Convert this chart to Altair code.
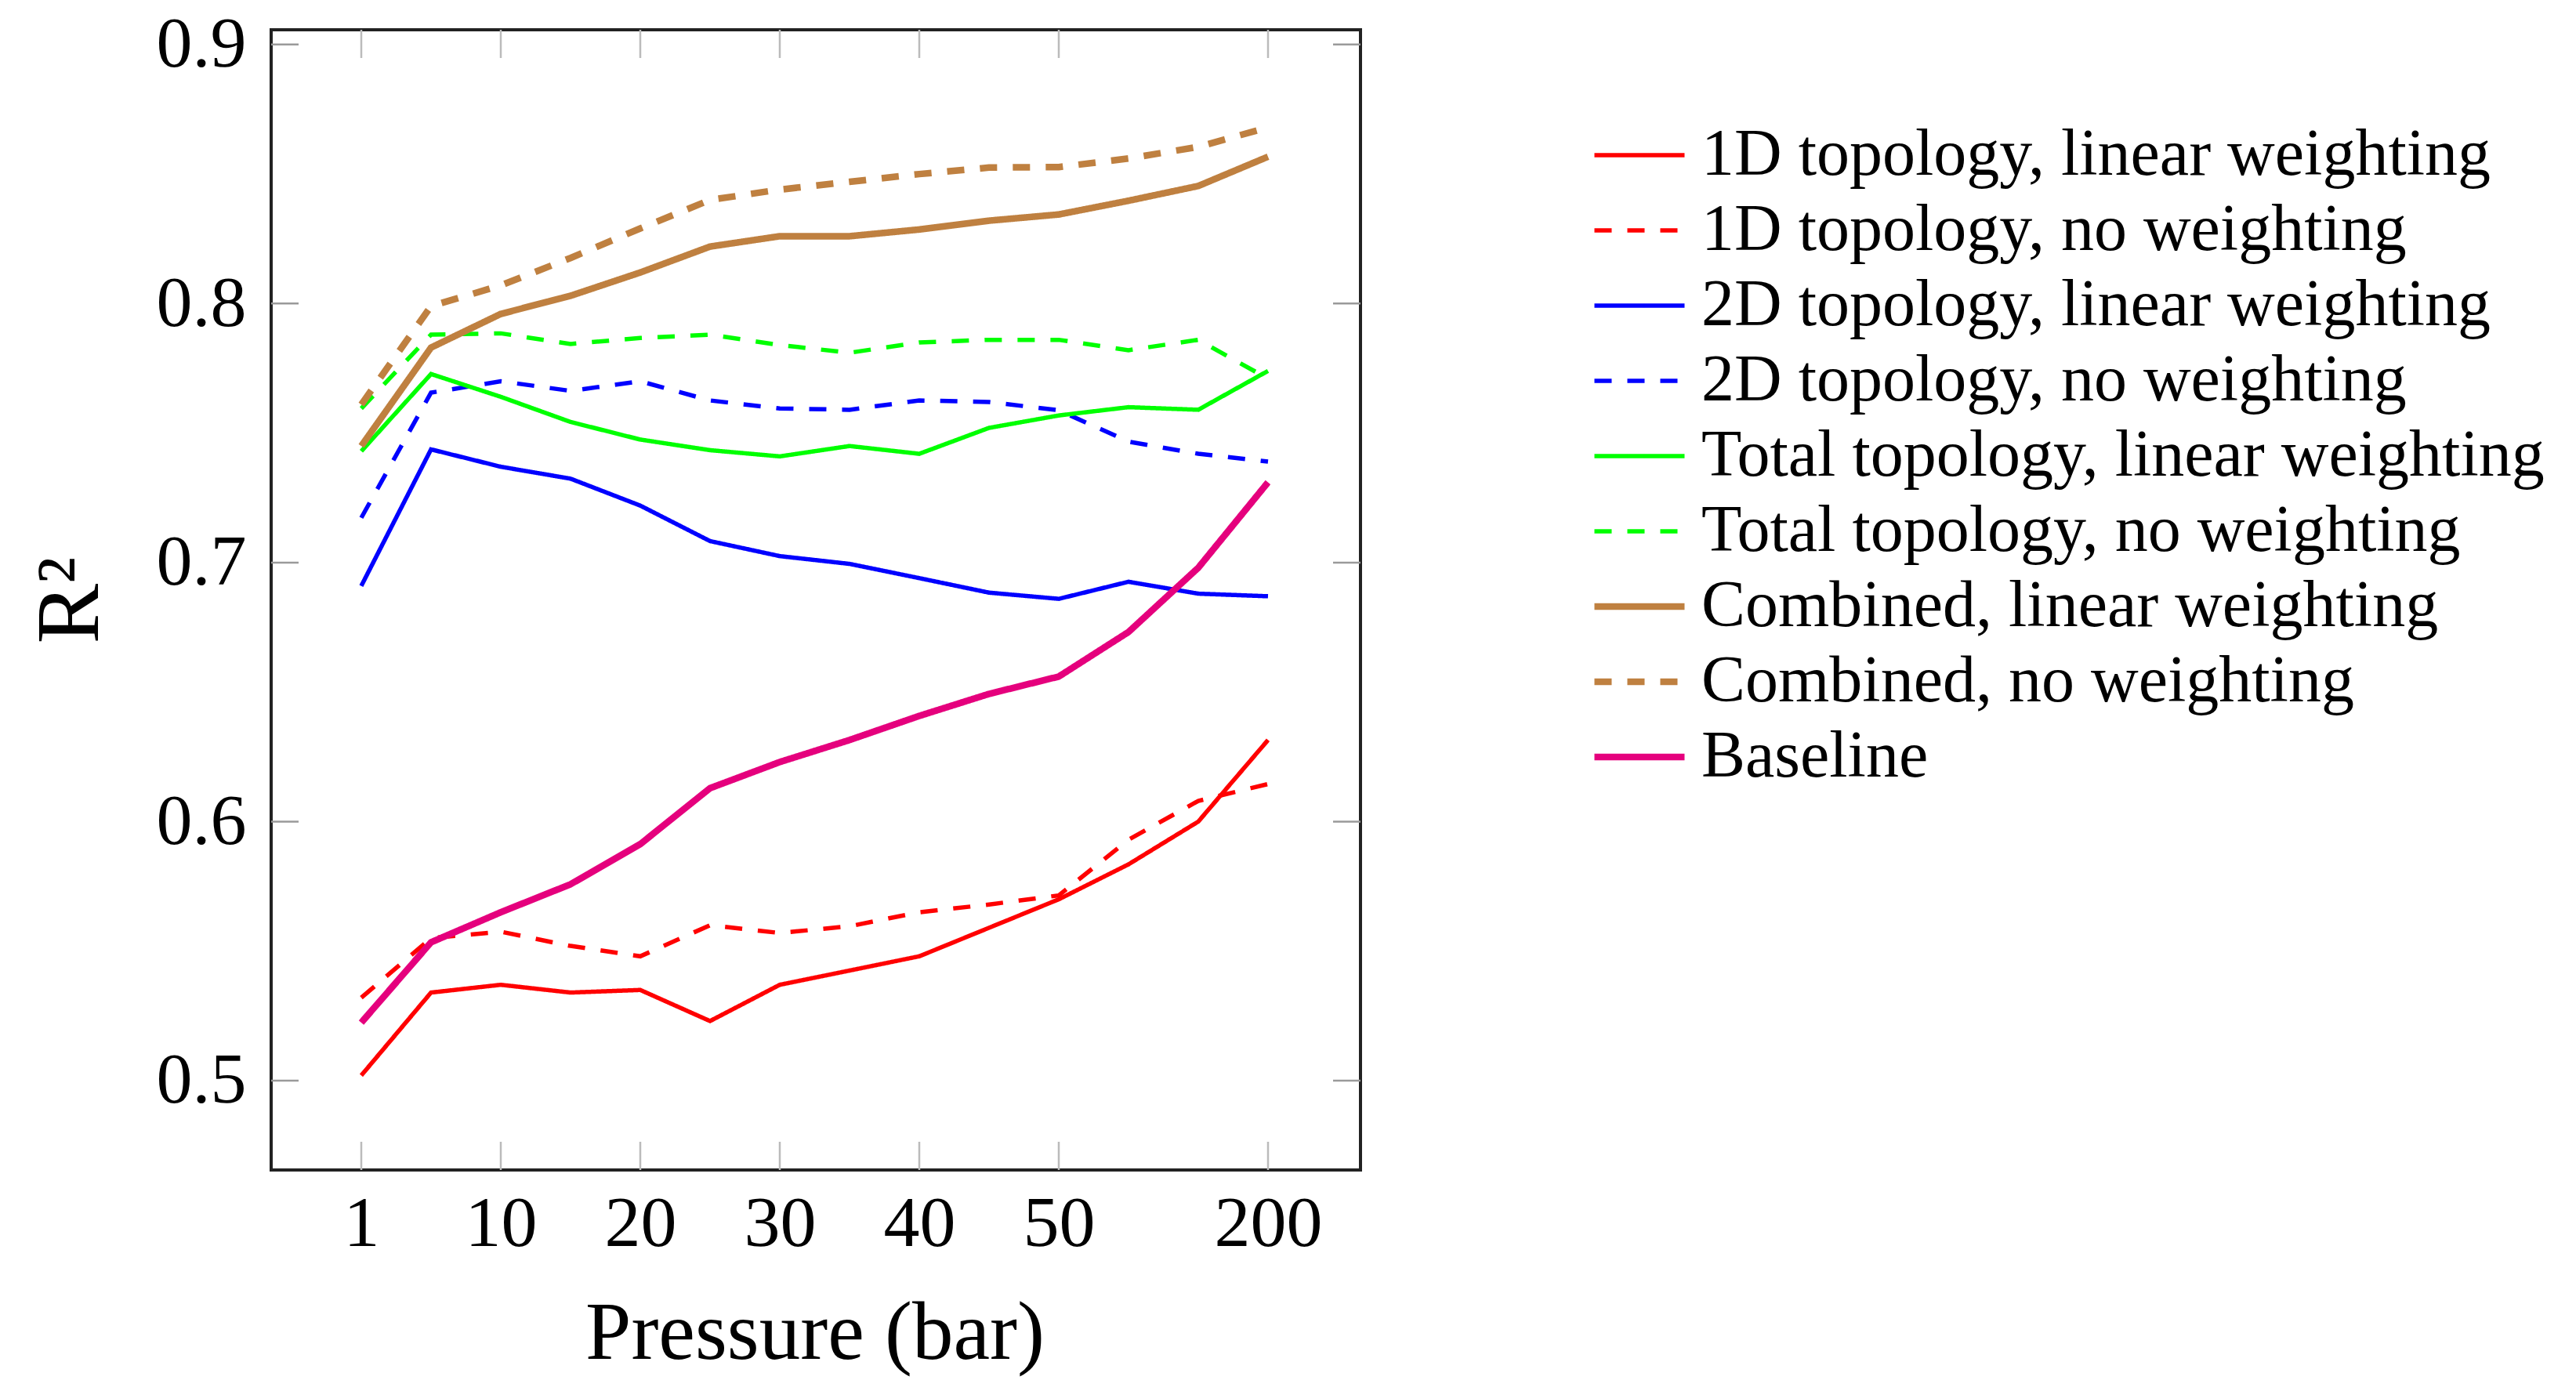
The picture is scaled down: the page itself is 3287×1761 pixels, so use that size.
import altair as alt
import pandas as pd

# ---- data ----
pressure = [1, 5, 10, 15, 20, 25, 30, 35, 40, 45, 50, 100, 150, 200]
tick_pressures = [1, 10, 20, 30, 40, 50, 200]
y_ticks = [0.5, 0.6, 0.7, 0.8, 0.9]

series_names = [
    "1D topology, linear weighting",
    "1D topology, no weighting",
    "2D topology, linear weighting",
    "2D topology, no weighting",
    "Total topology, linear weighting",
    "Total topology, no weighting",
    "Combined, linear weighting",
    "Combined, no weighting",
    "Baseline",
]

one_d_lin = [0.502, 0.534, 0.537, 0.534, 0.535, 0.523, 0.537, 0.5425, 0.548, 0.559, 0.570, 0.5835, 0.600, 0.6315]
one_d_no = [0.532, 0.555, 0.5575, 0.552, 0.548, 0.560, 0.557, 0.5596, 0.565, 0.568, 0.5715, 0.593, 0.608, 0.6145]
two_d_lin = [0.691, 0.7437, 0.737, 0.7324, 0.722, 0.7083, 0.7025, 0.6995, 0.694, 0.6884, 0.686, 0.6926, 0.688, 0.687]
two_d_no = [0.7173, 0.7656, 0.770, 0.7663, 0.770, 0.7626, 0.7595, 0.759, 0.7626, 0.762, 0.7588, 0.7467, 0.742, 0.739]
tot_lin = [0.743, 0.7728, 0.764, 0.7543, 0.7475, 0.7434, 0.741, 0.745, 0.742, 0.752, 0.7568, 0.760, 0.759, 0.774]
tot_no = [0.7595, 0.788, 0.7885, 0.7844, 0.7867, 0.788, 0.784, 0.781, 0.785, 0.786, 0.786, 0.782, 0.786, 0.771]
comb_lin = [0.745, 0.783, 0.796, 0.803, 0.812, 0.822, 0.826, 0.826, 0.8286, 0.832, 0.8344, 0.8397, 0.8454, 0.8567]
comb_no = [0.761, 0.799, 0.807, 0.8176, 0.829, 0.840, 0.844, 0.847, 0.850, 0.8525, 0.8527, 0.856, 0.8605, 0.868]
baseline = [0.5224, 0.5534, 0.565, 0.5758, 0.5913, 0.6129, 0.623, 0.6315, 0.6408, 0.6493, 0.656, 0.6732, 0.698, 0.731]

all_series = [one_d_lin, one_d_no, two_d_lin, two_d_no, tot_lin, tot_no, comb_lin, comb_no, baseline]

# ---- styles ----
colors = ["#ff0000", "#ff0000", "#0000ff", "#0000ff", "#00ff00", "#00ff00", "#bf8040", "#bf8040", "#e5007d"]
dashes = [[1, 0], [22, 20], [1, 0], [22, 20], [1, 0], [22, 20], [1, 0], [22, 20], [1, 0]]
widths = [5.5, 5.5, 5.5, 5.5, 5.5, 5.5, 8.5, 8.5, 8.5]

rows = []
for name, vals in zip(series_names, all_series):
    for p, v in zip(pressure, vals):
        rows.append({"series": name, "pressure": p, "r2": v})
df = pd.DataFrame(rows)

W, H = 1390, 1455
FONT = "Liberation Serif"

x_scale = alt.Scale(type="point", domain=pressure, padding=0, range=[115, 1272])
y_scale = alt.Scale(domain=[0.4655, 0.9057], nice=False, zero=False)

lines = alt.Chart(df).mark_line(strokeCap="butt", strokeJoin="miter").encode(
    x=alt.X("pressure:O", scale=x_scale, sort=pressure,
            axis=alt.Axis(values=tick_pressures, labelAngle=0, labelAlign="center",
                          ticks=False, domain=False,
                          labelFont=FONT, labelFontSize=92, labelColor="#000",
                          labelPadding=68, grid=False,
                          title="Pressure (bar)", titleFont=FONT, titleFontSize=105,
                          titleFontWeight="normal", titleColor="#000",
                          titleBaseline="middle", titleY=208)),
    y=alt.Y("r2:Q", scale=y_scale,
            axis=alt.Axis(values=y_ticks, format=".1f", ticks=False, domain=False, grid=False,
                          labelFont=FONT, labelFontSize=92, labelColor="#000", labelPadding=32,
                          title="R²", titleFont=FONT, titleFontSize=115,
                          titleFontWeight="normal", titleColor="#000",
                          titleX=-198, titleY=H / 2)),
    color=alt.Color("series:N", sort=series_names,
                    scale=alt.Scale(domain=series_names, range=colors),
                    legend=alt.Legend(title=None)),
    strokeDash=alt.StrokeDash("series:N", sort=series_names,
                              scale=alt.Scale(domain=series_names, range=dashes),
                              legend=alt.Legend(title=None)),
    strokeWidth=alt.StrokeWidth("series:N", sort=series_names,
                                scale=alt.Scale(type="ordinal", domain=series_names, range=widths),
                                legend=alt.Legend(title=None)),
    order=alt.Order("pressure:Q"),
)

ydf = pd.DataFrame({"r2": y_ticks})
xdf = pd.DataFrame({"pressure": tick_pressures})
TICK_COLOR = "#9a9a9a"

ytick_left = alt.Chart(ydf).mark_rule(color=TICK_COLOR, strokeWidth=2.5).encode(
    y=alt.Y("r2:Q", scale=y_scale), x=alt.value(0), x2=alt.value(35))
ytick_right = alt.Chart(ydf).mark_rule(color=TICK_COLOR, strokeWidth=2.5).encode(
    y=alt.Y("r2:Q", scale=y_scale), x=alt.value(W - 35), x2=alt.value(W))
xtick_bottom = alt.Chart(xdf).mark_rule(color="#bbbbbb", strokeWidth=2.5).encode(
    x=alt.X("pressure:O", scale=x_scale, sort=pressure), y=alt.value(H - 36), y2=alt.value(H))
xtick_top = alt.Chart(xdf).mark_rule(color="#bbbbbb", strokeWidth=2.5).encode(
    x=alt.X("pressure:O", scale=x_scale, sort=pressure), y=alt.value(0), y2=alt.value(36))

chart = alt.layer(ytick_left, ytick_right, xtick_bottom, xtick_top, lines).properties(
    width=W, height=H,
    background="white",
    autosize=alt.AutoSizeParams(type="none"),
    padding={"left": 346, "top": 38, "right": 3287 - 346 - W, "bottom": 1761 - 38 - H},
).configure_view(
    stroke="#222222", strokeWidth=4
).configure_legend(
    orient="none", legendX=1704, legendY=118,
    symbolType="M-5,0H5", symbolSize=529,
    labelFont=FONT, labelFontSize=84, labelColor="#000", labelLimit=0,
    labelOffset=37, rowPadding=12, padding=0,
)

chart.save("out.html", embed_options={"renderer": "svg", "actions": False})
